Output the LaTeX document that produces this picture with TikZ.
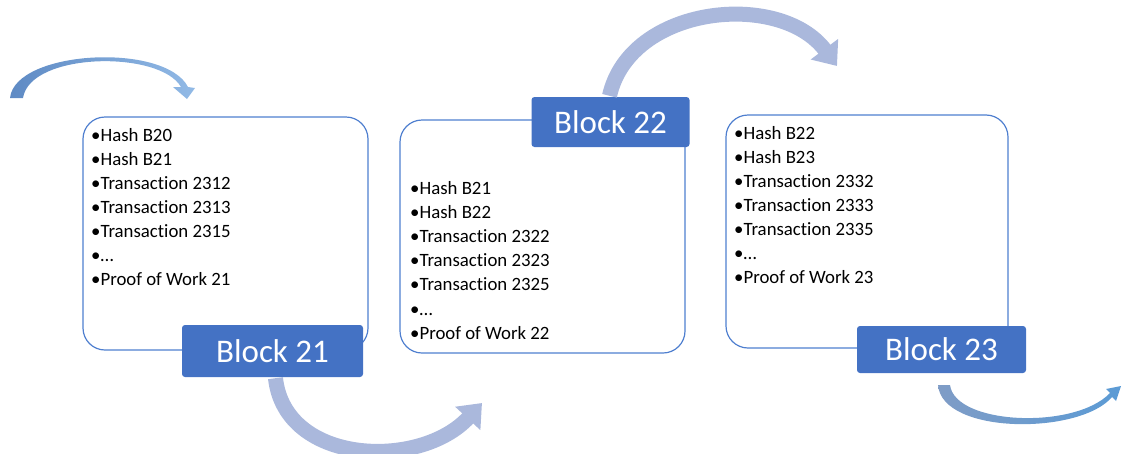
\documentclass[tikz,border=0pt]{standalone}
\usepackage{fontspec}
\setmainfont{Carlito}[Ligatures=NoCommon]
\usetikzlibrary{arrows.meta}
\definecolor{boxline}{HTML}{4F7FCF}
\definecolor{labelblue}{HTML}{4472C4}
\definecolor{periwinkle}{HTML}{AAB8DC}
\definecolor{swirldark}{HTML}{5E8AC4}
\definecolor{swirllight}{HTML}{92BAE6}
\definecolor{swirlgrey}{HTML}{7F9CC6}
\definecolor{swirlblue}{HTML}{5B9BD5}
\begin{document}
\begin{tikzpicture}[x=1pt,y=-1pt,
  blockbox/.style={draw=boxline, line width=1.2pt, rounded corners=22pt, inner sep=0pt},
  blocklabel/.style={fill=labelblue, rounded corners=3pt, text=white, inner sep=0pt,
    font=\fontsize{33}{33}\selectfont},
  entry/.style={anchor=base west, inner sep=0pt, font=\fontsize{18.8}{22}\selectfont},
  linkarrow/.style={draw=periwinkle, line width=15pt, -{Triangle[width=33pt,length=21pt]}},
]
\useasboundingbox (0,0) rectangle (1122,453);

% incoming swirl at the far left
\shade[left color=swirldark, right color=swirllight]
  (10,98) .. controls (15,50) and (165,42) .. (188,87)
  -- (195,88) -- (187,99) -- (173,87) -- (181,87)
  .. controls (160,50) and (30,52) .. (23,98) -- cycle;

% outgoing swirl at the far right
\shade[left color=swirlgrey, right color=swirlblue]
  (938,385) .. controls (942,435) and (1080,435) .. (1112,397)
  -- (1116,401) -- (1121,386) -- (1106,389) -- (1110,393)
  .. controls (1075,430) and (955,425) .. (950,385) -- cycle;

% block frames
\node[blockbox, minimum width=285pt, minimum height=233pt] (box21) at (225.5,233.5) {};
\node[blockbox, minimum width=285pt, minimum height=233pt] (box22) at (542.5,236.5) {};
\node[blockbox, minimum width=282pt, minimum height=233pt] (box23) at (867,231.5) {};

% block titles
\node[blocklabel, minimum width=181pt, minimum height=52pt] (b21) at (272.5,351) {Block 21};
\node[blocklabel, minimum width=158pt, minimum height=50pt] (b22) at (610.5,122) {Block 22};
\node[blocklabel, minimum width=169pt, minimum height=47pt] (b23) at (941.5,349.5) {Block 23};

% links between blocks
\coordinate (a3end) at (482,403);
\coordinate (a2end) at (837,66);
\draw[linkarrow] ([xshift=3pt,yshift=-1pt]b21.south)
  .. controls (285,465) and (420,470) .. (a3end);
\draw[linkarrow] ([xshift=-1pt,yshift=1pt]b22.north)
  .. controls (630,5) and (780,-10) .. (a2end);

% contents
\foreach \t [count=\i] in {•Hash B20,•Hash B21,•Transaction 2312,•Transaction 2313,•Transaction 2315,•…,•Proof of Work 21}
  \node[entry] (e21-\i) at (91,{141+24.1*(\i-1)}) {\t};
\foreach \t [count=\i] in {•Hash B21,•Hash B22,•Transaction 2322,•Transaction 2323,•Transaction 2325,•…,•Proof of Work 22}
  \node[entry] (e22-\i) at (410,{194+24.2*(\i-1)}) {\t};
\foreach \t [count=\i] in {•Hash B22,•Hash B23,•Transaction 2332,•Transaction 2333,•Transaction 2335,•…,•Proof of Work 23}
  \node[entry] (e23-\i) at (734,{139+24*(\i-1)}) {\t};
\end{tikzpicture}
\end{document}
